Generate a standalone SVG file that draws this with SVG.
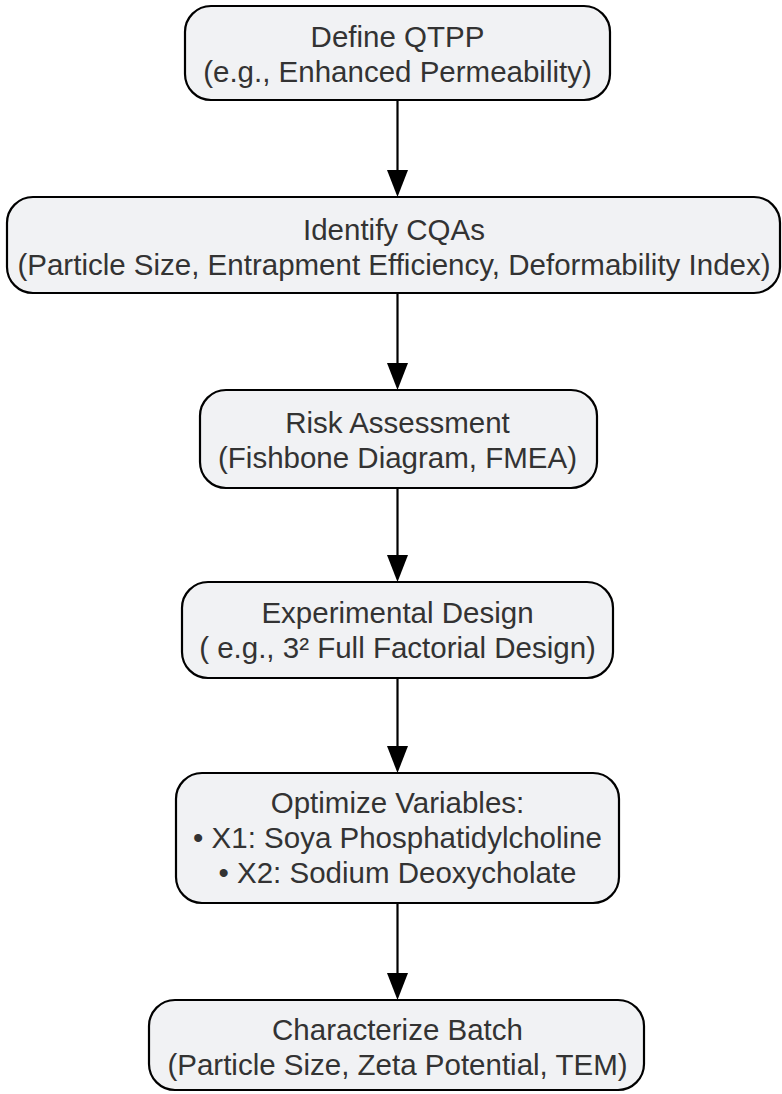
<svg xmlns="http://www.w3.org/2000/svg" width="782" height="1094" viewBox="0 0 782 1094">
<defs>
<style>
.box{fill:#f1f2f4;stroke:#000;stroke-width:2.2}
.t{font-family:"Liberation Sans",Arial,sans-serif;font-size:29.5px;fill:#333;text-anchor:middle}
.c{stroke:#000;stroke-width:2.2;fill:none}
</style>
</defs>
<rect width="782" height="1094" fill="#fff"/>
<g id="connectors">
<line class="c" x1="397.5" y1="100" x2="397.5" y2="172"/><path d="M387,170 L408,170 L397.5,197 z"/>
<line class="c" x1="397.5" y1="293" x2="397.5" y2="365"/><path d="M387,363 L408,363 L397.5,390 z"/>
<line class="c" x1="397.5" y1="488" x2="397.5" y2="557"/><path d="M387,555 L408,555 L397.5,582 z"/>
<line class="c" x1="397.5" y1="678" x2="397.5" y2="748"/><path d="M387,746 L408,746 L397.5,773 z"/>
<line class="c" x1="397.5" y1="903" x2="397.5" y2="975"/><path d="M387,973 L408,973 L397.5,1000 z"/>
</g>
<g id="n1"><rect class="box" x="185" y="6" width="425" height="94" rx="26"/>
<text class="t" x="397.5" y="47">Define QTPP</text><text class="t" x="397.5" y="82">(e.g., Enhanced Permeability)</text></g>
<g id="n2"><rect class="box" x="7" y="197" width="773" height="96" rx="26"/>
<text class="t" x="394" y="240">Identify CQAs</text><text class="t" x="394" y="275">(Particle Size, Entrapment Efficiency, Deformability Index)</text></g>
<g id="n3"><rect class="box" x="200" y="390" width="397" height="98" rx="26"/>
<text class="t" x="397.5" y="433">Risk Assessment</text><text class="t" x="397.5" y="468">(Fishbone Diagram, FMEA)</text></g>
<g id="n4"><rect class="box" x="182" y="582" width="431" height="96" rx="26"/>
<text class="t" x="397.5" y="623">Experimental Design</text><text class="t" x="397.5" y="658">( e.g., 3² Full Factorial Design)</text></g>
<g id="n5"><rect class="box" x="176" y="773" width="443" height="130" rx="26"/>
<text class="t" x="397.5" y="813">Optimize Variables:</text><text class="t" x="397.5" y="848">• X1: Soya Phosphatidylcholine</text><text class="t" x="397.5" y="883">• X2: Sodium Deoxycholate</text></g>
<g id="n6"><rect class="box" x="149" y="1000" width="495" height="90" rx="26"/>
<text class="t" x="397.5" y="1040">Characterize Batch</text><text class="t" x="397.5" y="1075">(Particle Size, Zeta Potential, TEM)</text></g>
</svg>
